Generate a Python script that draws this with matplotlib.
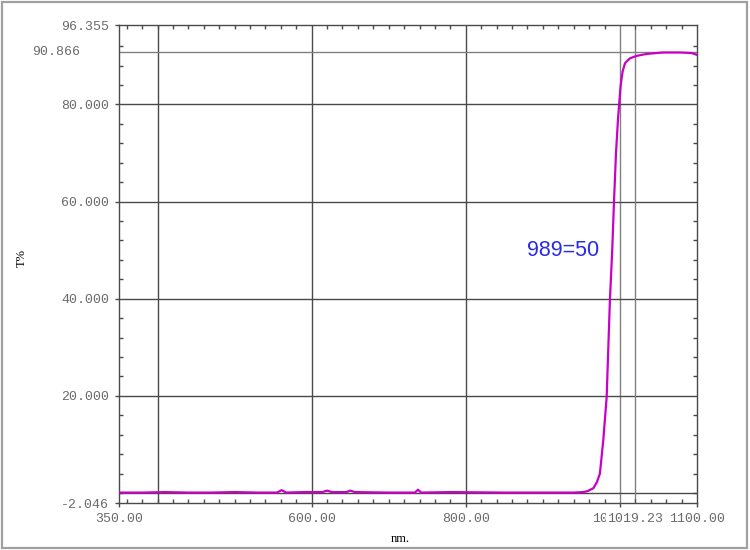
import matplotlib
matplotlib.use("Agg")
import matplotlib.pyplot as plt
from matplotlib.patches import Rectangle

# ── data ─────────────────────────────────────────────────────
wavelength = [350, 380, 410, 440, 470, 500, 530, 555, 561, 567, 590, 614,
              620, 626, 645, 650, 656, 700, 734, 738, 742, 780, 850, 900,
              940, 952, 958, 965.5, 970, 974, 978.4, 982.8, 987, 990,
              992.3, 994.9, 997.5, 999.2, 1001, 1003.5, 1006.6, 1013,
              1021.7, 1034.7, 1056, 1077.9, 1091, 1095, 1100]
transmit = [0.1, 0.1, 0.2, 0.1, 0.1, 0.2, 0.1, 0.1, 0.6, 0.1, 0.2, 0.2,
            0.5, 0.2, 0.2, 0.5, 0.2, 0.1, 0.1, 0.7, 0.1, 0.2, 0.1, 0.1,
            0.1, 0.2, 0.4, 1.0, 2.2, 4.0, 10.9, 19.8, 39.7, 50.0,
            60.0, 70.0, 77.0, 80.5, 84.0, 86.8, 88.5, 89.5,
            90.0, 90.4, 90.7, 90.7, 90.6, 90.5, 90.2]

x_min, x_max = 350.0, 1100.0
y_min, y_max = -2.046, 96.355
grid_x = [400, 600, 800, 1000]
grid_y = [0, 20, 40, 60, 80]
x_labels = [350, 600, 800, 1000, 1100]
y_labels = [-2.046, 20, 40, 60, 80, 96.355]
cursor_x = 1019.23
cursor_y = 90.866
note = "989=50"

GRID = "#4a4a4a"
CURSOR = "#808080"
TICKTXT = "#6a6a6a"
MONO = ["Liberation Mono", "DejaVu Sans Mono"]

fig = plt.figure(figsize=(7.5, 5.5), dpi=100)
fig.patches.append(Rectangle((0.002, 0.003), 0.994, 0.994, transform=fig.transFigure,
                             fill=False, edgecolor="#a0a0a0", linewidth=1.6))
ax = fig.add_axes([119 / 750, 1 - 503 / 550, 578 / 750, 478 / 550])

for gx in grid_x:
    ax.axvline(gx, color=GRID if gx != 1000 else CURSOR, linewidth=1.0, zorder=1)
for gy in grid_y:
    ax.axhline(gy, color=GRID, linewidth=1.0, zorder=1)
ax.axhline(cursor_y, color=CURSOR, linewidth=1.0, zorder=1)
ax.plot([cursor_x, cursor_x], [95.5, -1.4], color=CURSOR, linewidth=1.0, zorder=1)

ax.plot(wavelength, transmit, color="#c800c8", linewidth=1.6, zorder=3)

ax.text(880, 50, note, color="#2a2ae6", fontsize=15.5, ha="left", va="center",
        family=["Liberation Sans", "DejaVu Sans"])

ax.set_xlim(x_min, x_max)
ax.set_ylim(y_min, y_max)

ax.set_xticks(x_labels)
ax.set_xticklabels([f"{v:.2f}" for v in x_labels])
ax.set_yticks(y_labels)
ax.set_yticklabels([f"{v:.3f}" for v in y_labels])
ax.set_xticks(range(360, 1100, 20), minor=True)
ax.set_yticks(range(0, 96, 4), minor=True)

ax.tick_params(which="major", direction="out", length=3, width=1, color=GRID,
               labelsize=9.5, labelcolor=TICKTXT, pad=4)
ax.tick_params(which="minor", direction="in", length=3, width=1, color=GRID,
               top=True, right=True)
for lab in ax.get_xticklabels() + ax.get_yticklabels():
    lab.set_family(MONO)

# cursor readouts
ax.annotate(f"{cursor_x:.2f}", xy=(cursor_x, 0), xycoords=("data", "axes fraction"),
            xytext=(0, -7), textcoords="offset points", ha="center", va="top",
            fontsize=9.5, color=TICKTXT, family=MONO,
            bbox=dict(facecolor="white", edgecolor="none", pad=0.3))
ax.text(-0.068, cursor_y, f"{cursor_y:.3f}", transform=ax.get_yaxis_transform(),
        ha="right", va="center", fontsize=9.5, color=TICKTXT, family=MONO)

for s in ax.spines.values():
    s.set_color(GRID)
    s.set_linewidth(1.0)

fig.text(22 / 750, 1 - 258 / 550, "T%", rotation=90, ha="center", va="center",
         fontsize=9, family=["Liberation Serif", "DejaVu Serif"])
fig.text(400 / 750, 1 - 539 / 550, "nm.", ha="center", va="center",
         fontsize=9, family=["Liberation Serif", "DejaVu Serif"])

fig.savefig("out.png", dpi=100)
